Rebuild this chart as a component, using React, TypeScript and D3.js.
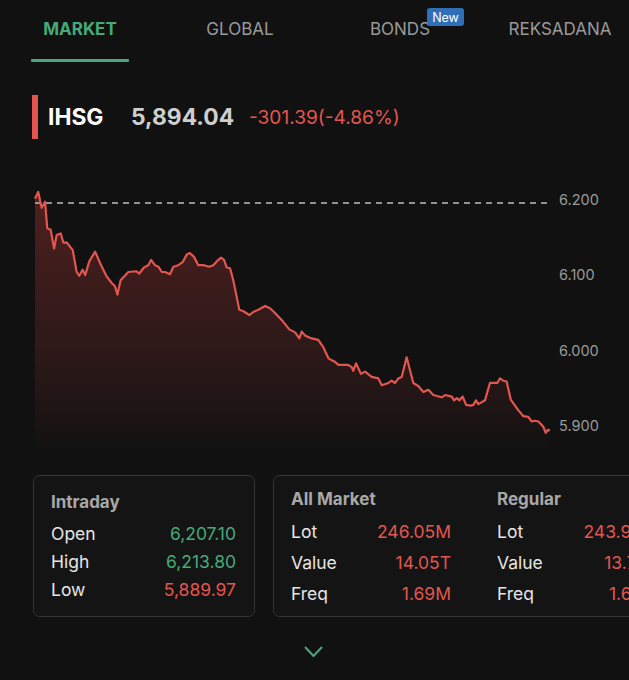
import React from "react";
import * as d3 from "d3";

// intraday IHSG series: minutes since open, index level
const minutes = [
  0, 1.5, 3.1, 4.7, 5.7, 7.3, 8.9, 10.1, 12.0, 13.2, 14.8, 17.6, 19.4, 20.6, 22.2, 23.4,
  25.3, 28.0, 30.3, 33.4, 36.2, 37.3, 38.4, 39.9, 43.5, 47.1, 48.6, 50.8, 52.8, 54.1,
  55.9, 57.5, 59.1, 60.6, 62.9, 64.5, 66.8, 68.8, 70.7, 72.2, 74.1, 76.1, 78.4, 81.2,
  83.1, 85.0, 86.7, 88.1, 89.3, 90.9, 92.4, 94.0, 95.2, 97.1, 99.9, 101.7, 104.1, 107.2,
  109.5, 111.4, 113.4, 115.7, 118.5, 121.2, 123.2, 124.3, 125.8, 128.9, 132.0, 134.4,
  136.7, 138.3, 139.8, 141.4, 145.9, 147.6, 148.3, 149.6, 151.9, 153.8, 156.9, 160.0,
  161.6, 164.7, 166.2, 167.8, 169.3, 170.9, 173.2, 176.3, 178.6, 181.0, 183.3, 185.6,
  189.5, 191.1, 194.2, 195.3, 196.6, 197.8, 199.3, 200.9, 203.1, 204.3, 205.5, 206.6,
  209.7, 212.0, 213.6, 215.4, 216.7, 218.2, 219.8, 221.7, 223.2, 225.2, 227.6, 229.9,
  231.5, 233.0, 234.6, 236.9, 238.0, 239.0, 240,
];
const levels = [
  6201, 6210, 6189, 6197, 6162, 6160, 6135, 6153, 6155, 6143, 6143, 6133, 6104, 6099, 6107, 6100,
  6118, 6131, 6116, 6098, 6088, 6085, 6074, 6093, 6104, 6105, 6102, 6110, 6113, 6120,
  6113, 6111, 6104, 6104, 6101, 6111, 6113, 6117, 6127, 6129, 6124, 6113, 6113, 6111,
  6113, 6119, 6123, 6120, 6110, 6109, 6093, 6071, 6054, 6052, 6047, 6051, 6054, 6059,
  6056, 6051, 6045, 6038, 6028, 6024, 6016, 6025, 6020, 6016, 6014, 6004,
  5990, 5987, 5985, 5981, 5981, 5978, 5973, 5983, 5969, 5972, 5965, 5963,
  5954, 5957, 5960, 5957, 5963, 5965, 5991, 5957, 5953, 5945, 5948, 5941,
  5938, 5941, 5939, 5934, 5937, 5934, 5939, 5928, 5927, 5928, 5934, 5929,
  5934, 5957, 5957, 5957, 5963, 5960, 5959, 5935, 5929, 5921, 5913, 5912,
  5906, 5907, 5906, 5899, 5891, 5895, 5894.04,
];
const prevClose = 6195.43;
const yTicks = [6200, 6100, 6000, 5900];

const tabs = ["MARKET", "GLOBAL", "BONDS", "REKSADANA"];
const intradayLabels = ["Open", "High", "Low"];
const intradayValues = ["6,207.10", "6,213.80", "5,889.97"];
const intradayUp = [true, true, false];
const statLabels = ["Lot", "Value", "Freq"];
const allMarketValues = ["246.05M", "14.05T", "1.69M"];
const regularValues = ["243.96M", "13.74T", "1.65M"];

const W = 629;
const H = 680;
const font = "Inter, 'Open Sans', sans-serif";
const green = "#46a97a";
const red = "#e2564f";

const App: React.FC = () => {
  const data = minutes.map((m, i) => ({ t: m, v: levels[i] }));

  const x = d3.scaleLinear().domain([0, 240]).range([35, 550]);
  const y = d3.scaleLinear().domain([5900, 6200]).range([426, 199.5]);
  const bottom = 452;

  const line = d3
    .line<{ t: number; v: number }>()
    .x((d) => x(d.t))
    .y((d) => y(d.v));
  const area = d3
    .area<{ t: number; v: number }>()
    .x((d) => x(d.t))
    .y0(bottom)
    .y1((d) => y(d.v));

  const tabX = [80, 240, 400, 560];

  return (
    <svg
      width={W}
      height={H}
      style={{ position: "fixed", left: 0, top: 0, background: "#111111" }}
      fontFamily={font}
    >
      <defs>
        <linearGradient id="fill" x1="0" y1="0" x2="0" y2="1">
          <stop offset="0%" stopColor="#52211f" stopOpacity={0.95} />
          <stop offset="60%" stopColor="#331a1a" stopOpacity={0.85} />
          <stop offset="100%" stopColor="#111111" stopOpacity={1} />
        </linearGradient>
      </defs>
      <rect width={W} height={H} fill="#111111" />

      {/* tabs */}
      {tabs.map((t, i) => (
        <text
          key={t}
          x={tabX[i]}
          y={35}
          textAnchor="middle"
          fontSize={17}
          fontWeight={i === 0 ? 700 : 400}
          fill={i === 0 ? green : "#9a9a9a"}
        >
          {t}
        </text>
      ))}
      <rect x={31} y={59} width={98} height={3} fill={green} rx={1} />
      <rect x={427} y={8} width={37} height={18} rx={3} fill="#2f6fb8" />
      <text x={445.5} y={22} textAnchor="middle" fontSize={12.5} fill="#ffffff">
        New
      </text>

      {/* header */}
      <rect x={32} y={95} width={6} height={44} fill={red} />
      <text x={48} y={125} fontSize={22.8} fontWeight={700} fill="#ffffff">
        IHSG
      </text>
      <text x={131} y={125} fontSize={22.8} fontWeight={700} fill="#cfcfcf">
        5,894.04
      </text>
      <text x={249} y={124} fontSize={19.1} fill={red}>
        -301.39(-4.86%)
      </text>

      {/* chart */}
      <path d={area(data) || ""} fill="url(#fill)" />
      <line
        x1={x(0)}
        x2={548}
        y1={y(prevClose)}
        y2={y(prevClose)}
        stroke="#bdbdbd"
        strokeWidth={1.5}
        strokeDasharray="6 5"
      />
      <path d={line(data) || ""} fill="none" stroke={red} strokeWidth={2.2} strokeLinejoin="round" />
      {yTicks.map((v) => (
        <text key={v} x={559} y={y(v) + 5} fontSize={14.5} fill="#9a9a9a">
          {d3.format(".3f")(v / 1000)}
        </text>
      ))}

      {/* intraday card */}
      <rect x={33.5} y={475.5} width={221} height={141} rx={6} fill="#141414" stroke="#353535" />
      <text x={51} y={508} fontSize={17} fontWeight={700} fill="#a8a8a8">
        Intraday
      </text>
      {intradayLabels.map((l, i) => (
        <g key={l}>
          <text x={51} y={540 + i * 28} fontSize={17.5} fill="#e6e6e6">
            {l}
          </text>
          <text
            x={236}
            y={540 + i * 28}
            fontSize={17.5}
            textAnchor="end"
            fill={intradayUp[i] ? green : red}
          >
            {intradayValues[i]}
          </text>
        </g>
      ))}

      {/* market stats card */}
      <rect x={273.5} y={475.5} width={420} height={141} rx={6} fill="#141414" stroke="#353535" />
      <text x={291} y={505} fontSize={17} fontWeight={700} fill="#a8a8a8">
        All Market
      </text>
      <text x={497} y={505} fontSize={17} fontWeight={700} fill="#a8a8a8">
        Regular
      </text>
      {statLabels.map((l, i) => (
        <g key={l}>
          <text x={291} y={538 + i * 31} fontSize={17.5} fill="#e6e6e6">
            {l}
          </text>
          <text x={451} y={538 + i * 31} fontSize={17.5} textAnchor="end" fill={red}>
            {allMarketValues[i]}
          </text>
          <text x={497} y={538 + i * 31} fontSize={17.5} fill="#e6e6e6">
            {l}
          </text>
          <text x={658} y={538 + i * 31} fontSize={17.5} textAnchor="end" fill={red}>
            {regularValues[i]}
          </text>
        </g>
      ))}

      {/* expand chevron */}
      <path d="M305,647 L313.5,656 L322,647" fill="none" stroke={green} strokeWidth={2} />
    </svg>
  );
};

export default App;
